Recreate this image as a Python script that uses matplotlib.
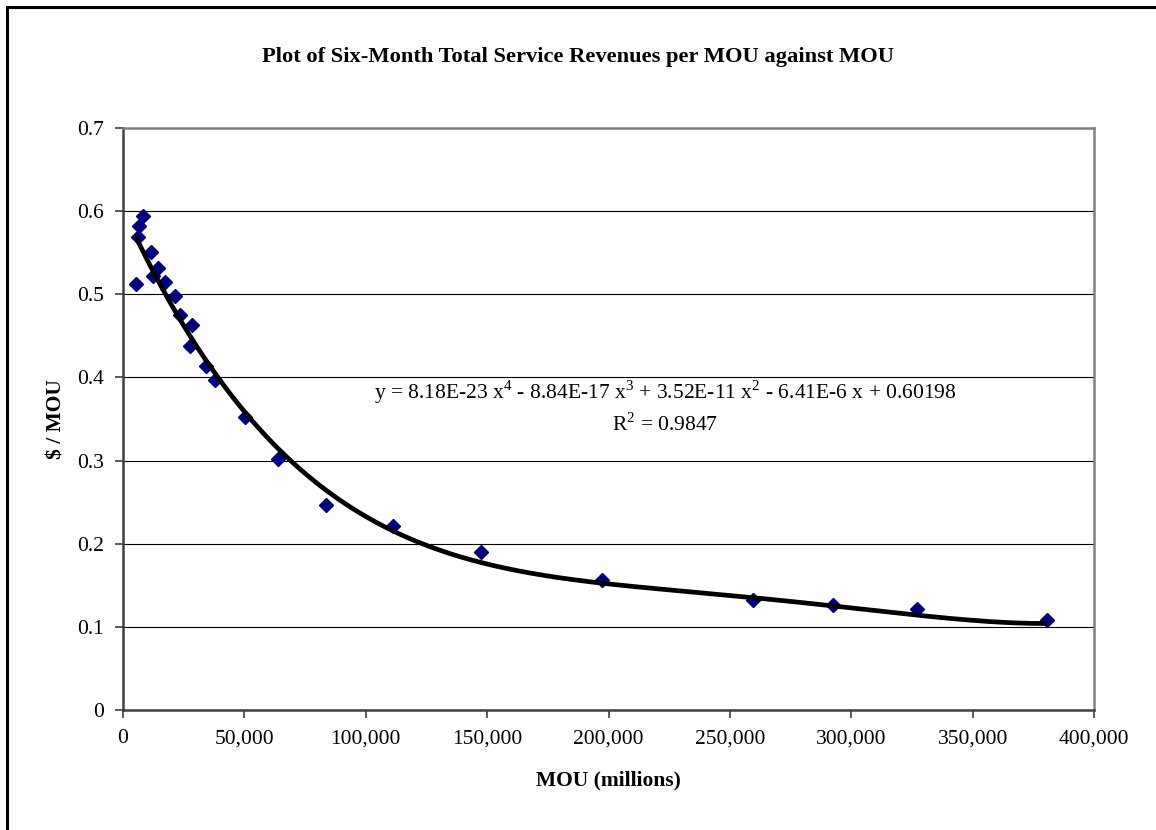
import numpy as np
import matplotlib.pyplot as plt
from matplotlib.patches import Rectangle
from matplotlib.ticker import FuncFormatter, MultipleLocator

plt.rcParams['font.family'] = ['Liberation Serif', 'DejaVu Serif']
plt.rcParams['mathtext.fontset'] = 'custom'
plt.rcParams['mathtext.rm'] = 'Liberation Serif'

# MOU (millions) and $ / MOU
mou = [5200, 6300, 6700, 8100, 11400, 12200, 14550, 17450, 21400, 23500,
       27600, 28550, 34200, 37900, 50300, 64000, 83500, 111400, 147500,
       197500, 259400, 292400, 327000, 380500]
rev_per_mou = [0.512, 0.5685, 0.582, 0.5945, 0.5505, 0.522, 0.532, 0.515, 0.498, 0.475,
               0.438, 0.463, 0.414, 0.397, 0.352, 0.3015, 0.2466, 0.2217, 0.1897,
               0.1564, 0.1323, 0.1263, 0.1215, 0.1083]

# trendline coefficients as printed on the chart (x^4 ... x^0)
trend_coef = [8.18e-23, -8.84e-17, 3.52e-11, -6.41e-6, 0.60198]
r_squared = 0.9847

fig = plt.figure(figsize=(11.56, 8.30), dpi=100)
ax = fig.add_axes([123/1156, 1 - 710/830, (1094-123)/1156, (710-128)/830])

# outer chart border
fig.patches.append(Rectangle((7/1156, -0.05), 1.2, 1 - 7/830 + 0.05,
                             transform=fig.transFigure, fill=False,
                             edgecolor='black', linewidth=2.2))

xs = np.linspace(min(mou), max(mou), 400)
ax.plot(xs, np.polyval(trend_coef, xs), color='black', lw=3.4, zorder=3,
        solid_capstyle='butt')
ax.plot(mou, rev_per_mou, linestyle='none', marker='D', ms=7.2,
        color='#000080', mec='#000080', zorder=2)

ax.set_xlim(0, 400000)
ax.set_ylim(0, 0.7)
ax.xaxis.set_major_locator(MultipleLocator(50000))
ax.yaxis.set_major_locator(MultipleLocator(0.1))
ax.xaxis.set_major_formatter(FuncFormatter(lambda v, p: '{:,.0f}'.format(v)))
ax.yaxis.set_major_formatter(FuncFormatter(lambda v, p: '0' if abs(v) < 1e-9 else '{:.1f}'.format(v)))
ax.grid(axis='y', color='black', lw=0.8)
ax.set_axisbelow(True)

for s in ['top', 'right']:
    ax.spines[s].set_color('#808080')
    ax.spines[s].set_linewidth(1.8)
for s in ['left', 'bottom']:
    ax.spines[s].set_color('#404040')
    ax.spines[s].set_linewidth(1.8)
ax.tick_params(direction='out', length=6, width=1.2, color='#404040',
               labelsize=15.5, pad=8)

ax.set_xlabel('MOU (millions)', fontsize=15.5, fontweight='bold', labelpad=16)
ax.set_ylabel('$ / MOU', fontsize=15.5, fontweight='bold', labelpad=7.5)
fig.text(0.5, 1 - 57/830, 'Plot of Six-Month Total Service Revenues per MOU against MOU',
         ha='center', va='center', fontsize=16.2, fontweight='bold')

eq = (r'y = 8.18E-23 x$^4$ - 8.84E-17 x$^3$ + 3.52E-11 x$^2$ - 6.41E-6 x + 0.60198'
      + '\n' + r'R$^2$ = ' + '{:.4f}'.format(r_squared))
ax.text(665/1156, 1 - 407/830, eq, transform=fig.transFigure, ha='center', va='center',
        fontsize=15.5, linespacing=1.4)

fig.savefig('out.png', dpi=100)
